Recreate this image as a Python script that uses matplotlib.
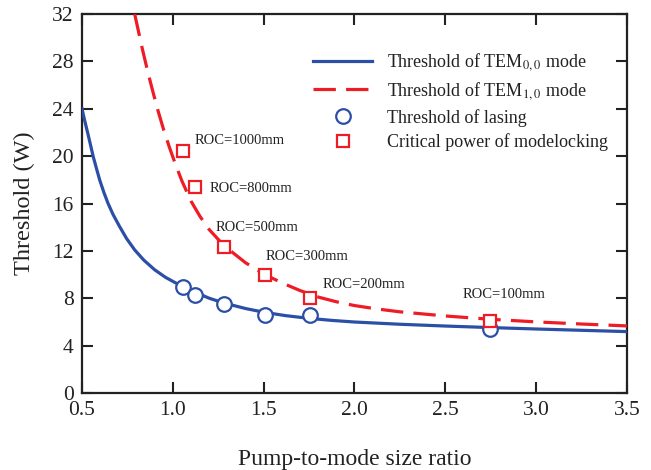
import matplotlib
matplotlib.use('Agg')
import matplotlib.pyplot as plt

# fonts: Times-like serif throughout
plt.rcParams['font.family'] = ['Liberation Serif', 'DejaVu Serif']
plt.rcParams['mathtext.fontset'] = 'stix'

# threshold of TEM00 mode
x_tem00 = [0.500, 0.515, 0.533, 0.547, 0.561, 0.580, 0.597, 0.620, 0.643,
           0.670, 0.707, 0.745, 0.790, 0.840, 0.900, 0.960, 1.030, 1.080,
           1.120, 1.200, 1.280, 1.400, 1.500, 1.620, 1.750, 1.880, 2.000,
           2.250, 2.500, 2.750, 3.000, 3.250, 3.500]
y_tem00 = [24.0, 22.98, 21.85, 20.93, 20.0, 18.93, 18.0, 16.95, 16.02,
           15.1, 14.05, 13.05, 12.08, 11.22, 10.4, 9.76, 9.17, 8.8,
           8.52, 8.0, 7.6, 7.13, 6.82, 6.53, 6.3, 6.12, 5.99,
           5.8, 5.65, 5.52, 5.4, 5.29, 5.18]

# threshold of TEM10 mode
x_tem10 = [0.79, 0.81, 0.83, 0.85, 0.87, 0.89, 0.92, 0.95, 0.98, 1.01, 1.05,
           1.10, 1.15, 1.20, 1.26, 1.33, 1.40, 1.50, 1.60, 1.70, 1.80, 1.90,
           2.00, 2.12, 2.25, 2.50, 2.75, 3.00, 3.25, 3.50]
y_tem10 = [32.0, 30.6, 29.2, 27.9, 26.65, 25.45, 23.75, 22.2, 20.8, 19.5, 17.9,
           16.2, 14.9, 13.8, 12.8, 11.85, 11.0, 10.05, 9.3, 8.65, 8.1, 7.7,
           7.38, 7.1, 6.85, 6.5, 6.22, 6.0, 5.82, 5.66]

# measured points
x_meas = [1.054, 1.122, 1.281, 1.509, 1.757, 2.745]
y_lasing = [8.98, 8.28, 7.49, 6.56, 6.56, 5.38]
y_modelock = [20.46, 17.42, 12.3, 9.97, 8.05, 6.11]

roc_labels = ['ROC=1000mm', 'ROC=800mm', 'ROC=500mm', 'ROC=300mm',
              'ROC=200mm', 'ROC=100mm']
roc_x = [1.12, 1.205, 1.235, 1.51, 1.825, 2.595]
roc_y = [21.3, 17.3, 14.0, 11.5, 9.2, 8.35]

xticks = [0.5, 1.0, 1.5, 2.0, 2.5, 3.0, 3.5]
yticks = [0, 4, 8, 12, 16, 20, 24, 28, 32]

blue = '#2b4ea6'
red = '#ee1c25'

fig = plt.figure(figsize=(6.51, 4.70), dpi=100)
ax = fig.add_axes([0.126, 0.164, 0.837, 0.806])

ax.plot(x_tem00, y_tem00, color=blue, lw=2.3,
        label=r'Threshold of TEM$_{0,0}$ mode', zorder=3)
ax.plot(x_tem10, y_tem10, color=red, lw=2.3, dashes=(7, 3.2),
        label=r'Threshold of TEM$_{1,0}$ mode', zorder=3)
ax.plot(x_meas, y_lasing, 'o', ms=10.5, mfc='white', mec=blue, mew=1.6,
        label='Threshold of lasing', zorder=4)
ax.plot(x_meas, y_modelock, 's', ms=9, mfc='white', mec=red, mew=1.6,
        label='Critical power of modelocking', zorder=5)

for lab, tx, ty in zip(roc_labels, roc_x, roc_y):
    ax.text(tx, ty, lab, fontsize=10.5, va='center', ha='left', color='#222222')

ax.set_xlim(0.5, 3.5)
ax.set_ylim(0, 32)
ax.set_xticks(xticks)
ax.set_yticks(yticks)
ax.set_xticklabels([f'{v:.1f}' for v in xticks])
ax.tick_params(direction='in', length=8, width=1.5, labelsize=15.5,
               top=True, right=True, colors='#222222', pad=6)
ax.tick_params(axis='x', pad=6)
for sp in ax.spines.values():
    sp.set_linewidth(1.6)
    sp.set_color('#222222')

ax.set_xlabel('Pump-to-mode size ratio', fontsize=17, labelpad=21,
              color='#222222')
ax.set_ylabel('Threshold (W)', fontsize=17.5, labelpad=12, color='#222222')

leg = ax.legend(loc='upper right', bbox_to_anchor=(0.995, 0.945), frameon=False,
                fontsize=13, handlelength=3.3, handletextpad=0.8,
                labelspacing=0.38)
for t in leg.get_texts():
    t.set_color('#222222')

fig.savefig('out.png', dpi=100)
